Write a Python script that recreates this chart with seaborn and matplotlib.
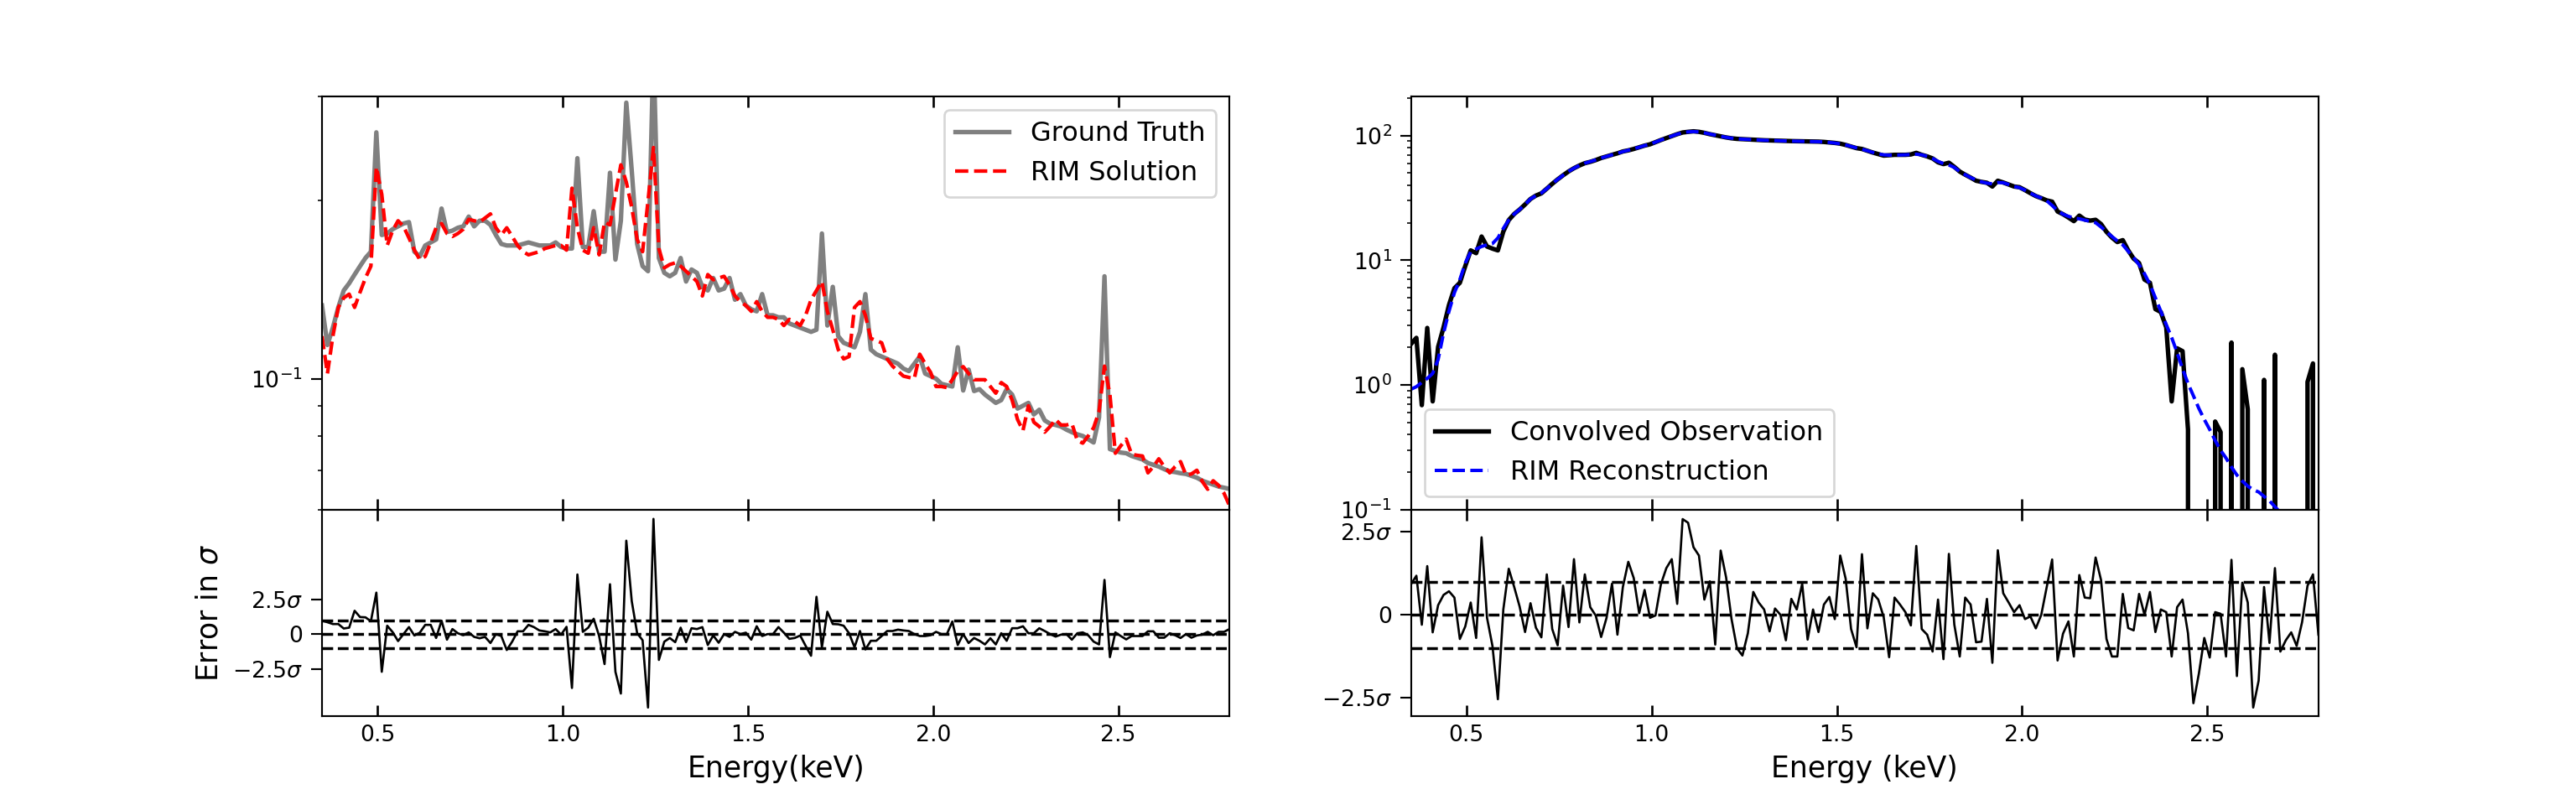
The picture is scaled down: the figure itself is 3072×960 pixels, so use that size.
import numpy as np
import matplotlib
matplotlib.use('Agg')
import matplotlib.pyplot as plt
import matplotlib.ticker as mticker
import seaborn as sns

# energy bin centres (keV), 168 bins
energy = np.linspace(0.35, 2.80, 168)

# left panel: intrinsic spectrum
ground_truth = [
    0.133, 0.114, 0.122, 0.132, 0.141, 0.145, 0.150, 0.155, 0.160, 0.164,
    0.261, 0.175, 0.176, 0.179, 0.181, 0.183, 0.184, 0.164, 0.161, 0.168,
    0.170, 0.172, 0.194, 0.177, 0.178, 0.180, 0.181, 0.188, 0.181, 0.185,
    0.185, 0.182, 0.175, 0.169, 0.168, 0.168, 0.168, 0.169, 0.170, 0.169,
    0.168, 0.168, 0.168, 0.170, 0.167, 0.166, 0.166, 0.236, 0.167, 0.167,
    0.192, 0.164, 0.164, 0.223, 0.159, 0.185, 0.293, 0.225, 0.169, 0.155,
    0.152, 0.360, 0.160, 0.151, 0.149, 0.151, 0.160, 0.146, 0.153, 0.151,
    0.143, 0.141, 0.148, 0.141, 0.142, 0.148, 0.136, 0.139, 0.133, 0.131,
    0.130, 0.139, 0.128, 0.128, 0.127, 0.127, 0.124, 0.123, 0.122, 0.121,
    0.120, 0.121, 0.176, 0.123, 0.143, 0.118, 0.115, 0.114, 0.113, 0.120,
    0.139, 0.112, 0.110, 0.109, 0.108, 0.107, 0.106, 0.104, 0.103, 0.106,
    0.109, 0.102, 0.101, 0.100, 0.098, 0.0975, 0.097, 0.113, 0.0955, 0.1036,
    0.0953, 0.096, 0.094, 0.0925, 0.091, 0.092, 0.096, 0.094, 0.089, 0.090,
    0.091, 0.087, 0.0886, 0.085, 0.0839, 0.0835, 0.083, 0.082, 0.0812, 0.0805,
    0.080, 0.079, 0.078, 0.086, 0.149, 0.076, 0.0755, 0.075, 0.0748, 0.074,
    0.0735, 0.073, 0.072, 0.0715, 0.071, 0.0703, 0.0697, 0.0695, 0.0692, 0.069,
    0.0685, 0.068, 0.0672, 0.0667, 0.0662, 0.0657, 0.0654, 0.0651,
]

rim_solution = [
    0.118, 0.102, 0.118, 0.132, 0.137, 0.139, 0.132, 0.140, 0.148, 0.155,
    0.228, 0.205, 0.168, 0.178, 0.185, 0.181, 0.173, 0.165, 0.159, 0.161,
    0.170, 0.180, 0.183, 0.176, 0.174, 0.176, 0.179, 0.186, 0.185, 0.184,
    0.187, 0.190, 0.180, 0.175, 0.180, 0.174, 0.168, 0.164, 0.162, 0.163,
    0.164, 0.166, 0.167, 0.168, 0.168, 0.165, 0.210, 0.180, 0.165, 0.163,
    0.180, 0.162, 0.184, 0.182, 0.205, 0.230, 0.215, 0.195, 0.172, 0.164,
    0.200, 0.246, 0.166, 0.154, 0.156, 0.157, 0.155, 0.152, 0.149, 0.146,
    0.138, 0.150, 0.147, 0.148, 0.149, 0.144, 0.138, 0.135, 0.133, 0.130,
    0.135, 0.130, 0.127, 0.127, 0.126, 0.123, 0.126, 0.125, 0.123, 0.128,
    0.136, 0.141, 0.146, 0.130, 0.121, 0.112, 0.108, 0.109, 0.132, 0.135,
    0.128, 0.117, 0.116, 0.115, 0.108, 0.105, 0.103, 0.101, 0.1005, 0.100,
    0.110, 0.106, 0.1025, 0.097, 0.097, 0.0966, 0.0996, 0.103, 0.1048, 0.102,
    0.0996, 0.0996, 0.0996, 0.097, 0.0945, 0.0985, 0.097, 0.092, 0.0853, 0.0817,
    0.090, 0.0844, 0.083, 0.0812, 0.083, 0.0853, 0.0835, 0.0835, 0.084, 0.0786,
    0.0778, 0.080, 0.0826, 0.088, 0.105, 0.094, 0.0748, 0.077, 0.079, 0.0745,
    0.0742, 0.074, 0.0693, 0.071, 0.0732, 0.071, 0.0693, 0.071, 0.0724, 0.0687,
    0.069, 0.070, 0.067, 0.065, 0.0672, 0.066, 0.064, 0.061,
]

err_solution = [
    0.96, 0.85, 0.72, 0.72, 0.40, 0.46, 1.67, 1.22, 1.20, 0.92,
    2.97, -2.70, 0.60, 0.14, -0.50, 0.00, 0.50, -0.10, 0.10, 0.66,
    0.66, -0.28, 0.96, -0.40, 0.36, 0.06, -0.08, 0.12, -0.20, -0.30,
    -0.20, -0.64, 0.00, -0.14, -1.14, -0.54, 0.20, 0.20, 0.66, 0.50,
    0.26, 0.20, 0.12, 0.36, -0.04, 0.52, -3.86, 4.27, 0.16, 0.46,
    1.10, -0.14, -2.15, 3.57, -2.70, -4.26, 6.69, 2.37, 0.06, -0.44,
    -5.26, 8.25, -1.85, -0.54, -0.28, -0.58, 0.46, -0.58, 0.42, 0.36,
    0.50, -0.78, -0.10, -0.62, 0.00, -0.20, 0.16, 0.00, 0.10, -0.40,
    0.56, -0.14, 0.00, 0.00, 0.50, 0.10, -0.34, -0.28, -0.10, -0.84,
    -1.55, 2.67, -0.94, 1.60, 0.72, 0.70, 0.60, 0.06, -0.94, 0.22,
    -1.10, -0.48, -0.48, -0.14, 0.22, 0.22, 0.32, 0.26, 0.22, 0.00,
    -0.14, -0.14, -0.08, 0.16, 0.00, 0.00, 0.90, -0.78, 0.00, -0.64,
    -0.28, -0.48, -0.74, -0.30, -0.74, 0.06, -0.48, 0.42, 0.42, 0.56,
    0.06, 0.06, 0.42, 0.22, 0.00, -0.18, -0.04, 0.00, -0.40, 0.06,
    0.12, -0.08, -0.54, -0.74, 3.88, -1.65, 0.12, -0.14, -0.38, -0.14,
    -0.14, -0.14, 0.20, 0.20, -0.26, -0.26, 0.06, -0.08, -0.28, 0.00,
    -0.26, -0.10, -0.04, 0.16, -0.08, 0.16, 0.16, 0.36,
]

# right panel: convolved (observed) spectrum
observation = [
    2.13, 2.39, 0.69, 2.87, 0.74, 2.02, 2.9, 4.38, 5.97, 6.6,
    9.0, 12.0, 11.4, 15.5, 12.9, 12.4, 12.0, 17.0, 21.0, 23.5,
    25.5, 28.0, 31.0, 33.0, 34.4, 37.5, 41.0, 44.5, 48.0, 51.5,
    54.7, 57.5, 60.0, 61.5, 63.5, 66.0, 68.0, 70.0, 72.0, 74.5,
    76.0, 78.0, 80.5, 83.0, 85.0, 88.5, 92.0, 95.4, 99.0, 102.5,
    105.7, 107.0, 108.0, 107.0, 105.0, 102.5, 100.5, 98.5, 96.5, 95.0,
    94.0, 93.5, 93.0, 92.5, 92.0, 91.6, 91.3, 91.0, 90.7, 90.4,
    90.2, 90.0, 89.8, 89.6, 89.4, 89.3, 88.8, 88.0, 87.2, 86.0,
    84.0, 81.5, 79.2, 78.0, 75.5, 73.0, 71.0, 69.0, 69.5, 70.0,
    70.0, 70.0, 70.5, 72.6, 70.0, 68.0, 65.5, 61.0, 59.0, 60.5,
    56.0, 51.4, 48.5, 46.0, 43.4, 42.5, 41.8, 39.0, 43.4, 42.0,
    40.5, 39.0, 38.5, 36.5, 34.5, 32.7, 31.5, 30.2, 29.5, 24.6,
    23.4, 22.0, 20.6, 22.8, 21.2, 20.8, 21.1, 19.5, 16.9, 15.2,
    14.0, 14.5, 12.0, 10.3, 9.5, 7.0, 6.6, 4.06, 3.85, 2.9,
    0.74, 1.97, 1.87, 0.44, 0.0, 0.0, 0.0, 0.0, 0.51, 0.42,
    0.0, 2.19, 0.0, 1.34, 0.64, 0.0, 0.0, 1.1, 0.0, 1.75,
    0.0, 0.0, 0.0, 0.0, 0.0, 1.06, 1.49, 0.0,
]

rim_reconstruction = [
    0.925, 0.97, 1.05, 1.13, 1.24, 1.6, 2.6, 3.9, 5.5, 7.0,
    9.5, 11.7, 12.3, 12.9, 13.3, 13.6, 15.1, 18.0, 21.0, 23.5,
    25.5, 28.0, 31.0, 33.0, 34.6, 37.5, 41.0, 44.5, 48.0, 51.5,
    54.7, 57.5, 60.0, 61.8, 63.8, 66.0, 68.0, 70.0, 72.0, 74.3,
    76.2, 78.3, 80.5, 83.0, 85.3, 88.5, 92.0, 95.4, 99.0, 102.5,
    105.2, 107.0, 107.5, 106.8, 105.0, 102.8, 100.5, 98.5, 96.7, 95.2,
    94.2, 93.5, 93.0, 92.5, 92.0, 91.6, 91.3, 91.0, 90.7, 90.4,
    90.2, 90.0, 89.8, 89.6, 89.4, 89.2, 88.8, 88.0, 87.0, 85.8,
    84.0, 81.8, 79.5, 77.6, 75.5, 73.2, 71.2, 70.0, 69.6, 69.6,
    69.8, 70.0, 70.4, 70.8, 70.0, 68.0, 65.5, 62.0, 59.5, 58.0,
    55.5, 51.4, 48.5, 46.0, 44.0, 42.5, 41.5, 41.0, 42.0, 41.8,
    40.5, 39.0, 38.2, 36.5, 34.5, 32.8, 31.5, 30.0, 27.5, 25.0,
    23.4, 22.5, 21.8, 21.5, 21.0, 20.5, 20.0, 18.5, 16.9, 15.5,
    14.3, 13.3, 11.8, 10.5, 9.2, 7.8, 6.4, 5.0, 3.9, 3.05,
    2.4, 1.82, 1.35, 1.03, 0.82, 0.65, 0.53, 0.44, 0.36, 0.30,
    0.26, 0.22, 0.19, 0.17, 0.155, 0.145, 0.139, 0.128, 0.118, 0.106,
    0.095, 0.087, 0.080, 0.073, 0.067, 0.061, 0.056, 0.051,
]

err_reconstruction = [
    0.92, 1.18, -0.30, 1.47, -0.53, 0.29, 0.60, 0.71, 0.52, -0.73,
    -0.35, 0.37, -0.70, 2.34, -0.09, -0.94, -2.55, 0.16, 1.39, 0.84,
    0.25, -0.52, 0.35, -0.39, -0.68, 1.22, -0.43, -0.92, 0.88, -0.37,
    1.68, -0.23, 1.22, 0.23, -0.02, -0.67, -0.09, 0.94, -0.60, 0.84,
    1.60, 1.11, 0.05, 0.75, -0.09, -0.02, 0.92, 1.41, 1.68, 0.33,
    2.89, 2.78, 2.04, 1.79, 0.46, 1.01, -0.90, 1.94, 1.13, -0.13,
    -1.01, -1.23, -0.56, 0.69, 0.37, 0.16, -0.50, 0.19, 0.00, -0.77,
    0.48, 0.16, 0.94, -0.75, 0.16, -0.52, 0.31, 0.54, -0.13, 1.79,
    1.09, -0.43, -0.98, 1.83, -0.41, 0.65, 0.46, -0.07, -1.28, 0.52,
    0.31, 0.08, -0.32, 2.08, -0.43, -0.60, -1.11, 0.46, -1.34, 1.84,
    -0.30, -1.26, 0.52, 0.31, -0.83, -0.81, 0.48, -1.45, 1.95, 0.65,
    0.37, 0.08, 0.29, -0.13, -0.05, -0.41, 0.00, 0.84, 1.67, -1.38,
    -0.57, -0.20, -1.26, 1.20, 0.52, 0.50, 1.73, 1.05, -0.73, -1.26,
    -1.26, 0.63, -0.40, -0.47, 0.63, 0.00, 0.69, -0.52, 0.16, 0.08,
    -1.26, 0.23, 0.46, -0.56, -2.67, -1.78, -0.70, -1.29, 0.08, 0.03,
    -1.26, 1.66, -1.85, 0.97, 0.37, -2.80, -1.99, 0.84, -0.85, 1.41,
    -1.11, -0.77, -0.53, -0.94, -0.22, 0.88, 1.22, -0.60,
]

for arr in (ground_truth, rim_solution, err_solution,
            observation, rim_reconstruction, err_reconstruction):
    assert len(arr) == len(energy), len(arr)

sigma_ticks = [2.5, 0, -2.5]
sigma_labels = [r'$2.5\sigma$', '0', r'$-2.5\sigma$']

fig = plt.figure(figsize=(16, 5), dpi=192)
gs = fig.add_gridspec(2, 2, height_ratios=[2, 1], hspace=0, wspace=0.2)

ax_tl = fig.add_subplot(gs[0, 0])
ax_bl = fig.add_subplot(gs[1, 0], sharex=ax_tl)
ax_tr = fig.add_subplot(gs[0, 1])
ax_br = fig.add_subplot(gs[1, 1], sharex=ax_tr)

# left top: ground truth vs RIM solution
sns.lineplot(x=energy, y=ground_truth, ax=ax_tl, color='grey', lw=2,
             estimator=None, label='Ground Truth')
sns.lineplot(x=energy, y=rim_solution, ax=ax_tl, color='red', lw=1.6,
             linestyle='--', estimator=None, label='RIM Solution')
ax_tl.set_yscale('log')
ax_tl.set_ylim(0.06, 0.3)
ax_tl.yaxis.set_minor_formatter(mticker.NullFormatter())
ax_tl.legend(loc='upper right', fontsize=12)

# left bottom: error
sns.lineplot(x=energy, y=err_solution, ax=ax_bl, color='black', lw=1,
             estimator=None)
for yv in (1, 0, -1):
    ax_bl.axhline(yv, color='black', ls='--', lw=1.3)
ax_bl.set_ylim(-5.9, 8.9)
ax_bl.set_yticks(sigma_ticks)
ax_bl.set_yticklabels(sigma_labels)
ax_bl.set_xlabel('Energy(keV)', fontsize=13)
ax_bl.set_ylabel(r'Error in $\sigma$', fontsize=13)

# right top: convolved observation vs RIM reconstruction
sns.lineplot(x=energy, y=observation, ax=ax_tr, color='black', lw=2,
             estimator=None, label='Convolved Observation')
sns.lineplot(x=energy, y=rim_reconstruction, ax=ax_tr, color='blue', lw=1.5,
             linestyle='--', estimator=None, label='RIM Reconstruction')
ax_tr.set_yscale('log')
ax_tr.set_ylim(0.1, 205)
ax_tr.legend(loc='lower left', fontsize=12)

# right bottom: error
sns.lineplot(x=energy, y=err_reconstruction, ax=ax_br, color='black', lw=1,
             estimator=None)
for yv in (1, 0, -1):
    ax_br.axhline(yv, color='black', ls='--', lw=1.3)
ax_br.set_ylim(-3.07, 3.17)
ax_br.set_yticks(sigma_ticks)
ax_br.set_yticklabels(sigma_labels)
ax_br.set_xlabel('Energy (keV)', fontsize=13)

for ax in (ax_tl, ax_bl, ax_tr, ax_br):
    ax.set_xlim(0.35, 2.8)
    ax.set_xticks([0.5, 1.0, 1.5, 2.0, 2.5])
    ax.tick_params(axis='x', which='both', direction='in', top=True,
                   length=5, width=1, labelsize=10)
    ax.tick_params(axis='y', which='major', length=5, labelsize=10)
for ax in (ax_tl, ax_tr):
    ax.tick_params(axis='x', labelbottom=False)

fig.savefig('out.png', dpi=192)
